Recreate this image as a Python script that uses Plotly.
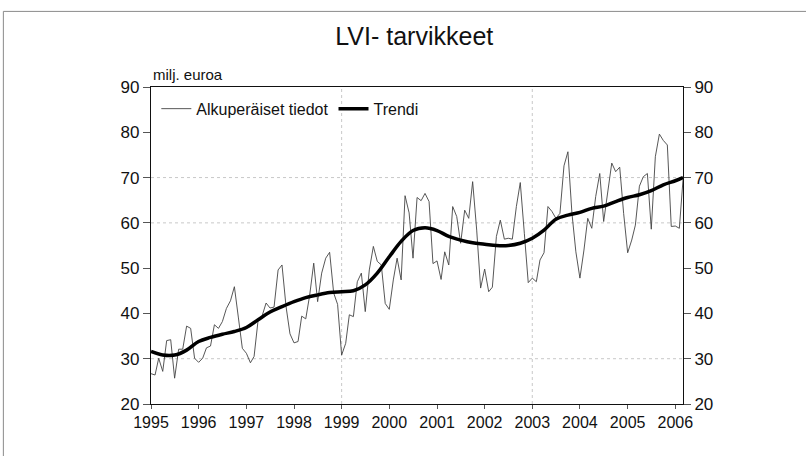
import pandas as pd
import plotly.graph_objects as go

# ---- data (milj. euroa), monthly from Jan 1995 ----
title = "LVI- tarvikkeet"
unit_label = "milj. euroa"
series_names = ["Alkuperäiset tiedot", "Trendi"]

original_values = [
    26.7, 26.4, 30.1, 27.2, 34.0, 34.2, 25.7, 32.1, 32.1, 37.2, 36.7, 30.1,   # 1995
    29.2, 30.1, 32.4, 32.8, 37.5, 36.7, 38.2, 41.1, 42.8, 45.9, 39.0, 32.3,   # 1996
    31.2, 29.1, 30.5, 38.6, 39.4, 42.3, 41.2, 41.4, 49.6, 50.7, 41.5, 35.5,   # 1997
    33.5, 33.8, 39.4, 38.8, 44.0, 51.1, 42.6, 48.9, 52.2, 53.5, 44.5, 42.0,   # 1998
    30.8, 33.4, 39.7, 39.3, 47.0, 48.9, 40.4, 49.6, 54.8, 51.5, 50.7, 42.2,   # 1999
    40.9, 47.4, 52.2, 47.4, 66.0, 62.2, 52.2, 65.6, 64.9, 66.5, 64.7, 51.0,   # 2000
    51.6, 47.5, 53.6, 50.7, 63.6, 61.4, 55.5, 62.8, 61.0, 69.1, 58.4, 45.6,   # 2001
    49.8, 44.8, 45.8, 57.0, 60.6, 56.4, 56.6, 56.4, 63.6, 68.9, 57.7, 46.8,   # 2002
    47.8, 47.0, 51.8, 53.4, 63.6, 62.5, 61.0, 62.1, 72.6, 75.7, 62.1, 53.6,   # 2003
    47.8, 54.0, 61.0, 58.8, 65.8, 70.9, 60.3, 66.5, 73.2, 71.3, 72.3, 62.1,   # 2004
    53.4, 56.2, 59.5, 68.1, 70.2, 70.9, 58.6, 74.6, 79.6, 78.2, 77.2, 59.2,   # 2005
    59.3, 58.8, 69.5,                                                         # 2006
]

# trend, read quarterly (Jan/Apr/Jul/Oct) plus the last month
trend_values = [
    31.6, 30.8, 30.8, 31.9,   # 1995
    33.8, 34.7, 35.4, 36.0,   # 1996
    36.9, 38.6, 40.3, 41.5,   # 1997
    42.6, 43.5, 44.1, 44.6,   # 1998
    44.8, 45.0, 46.3, 48.9,   # 1999
    52.5, 55.9, 58.3, 58.9,   # 2000
    58.3, 57.0, 56.2, 55.6,   # 2001
    55.3, 55.0, 55.0, 55.5,   # 2002
    56.6, 58.4, 60.8, 61.7,   # 2003
    62.3, 63.2, 63.7, 64.7,   # 2004
    65.6, 66.2, 67.1, 68.4,   # 2005
    69.3, 70.0,               # 2006 (Jan, Mar)
]

y_ticks = [20, 30, 40, 50, 60, 70, 80, 90]
year_ticks = list(range(1995, 2007))
hgrid_values = [30, 60, 70]
vgrid_years = [1999, 2003]

months = pd.date_range("1995-01-01", periods=len(original_values), freq="MS")
trend_dates = list(pd.date_range("1995-01-01", "2005-12-31", freq="QS")) + [
    pd.Timestamp("2006-01-01"), months[-1]]

font_family = "Liberation Sans Narrow, Arial Narrow, Liberation Sans, Arial, sans-serif"

fig = go.Figure()
fig.add_trace(go.Scatter(x=months, y=original_values, mode="lines",
                         name=series_names[0],
                         line=dict(color="#444444", width=0.9)))
fig.add_trace(go.Scatter(x=trend_dates, y=trend_values, mode="lines",
                         name=series_names[1], line_shape="spline",
                         line=dict(color="#000000", width=3.5)))
# invisible trace to activate the right-hand axis
fig.add_trace(go.Scatter(x=trend_dates, y=trend_values, yaxis="y2",
                         mode="lines", line=dict(width=0), opacity=0,
                         showlegend=False, hoverinfo="skip"))

x_range = [months[0], months[-1]]

for v in hgrid_values:
    fig.add_shape(type="line", xref="x", yref="y", x0=x_range[0], x1=x_range[1],
                  y0=v, y1=v, line=dict(color="#c8c8c8", width=1, dash="dot"),
                  layer="below")
for yr in vgrid_years:
    fig.add_shape(type="line", xref="x", yref="y",
                  x0=pd.Timestamp(f"{yr}-01-01"), x1=pd.Timestamp(f"{yr}-01-01"),
                  y0=y_ticks[0], y1=y_ticks[-1],
                  line=dict(color="#c8c8c8", width=1, dash="dot"), layer="below")

# outer frame (left and top edges visible)
fig.add_shape(type="line", xref="paper", yref="paper", x0=-0.2775, x1=1.3,
              y0=1.2385, y1=1.2385, line=dict(color="#8a8a8a", width=1))
fig.add_shape(type="line", xref="paper", yref="paper", x0=-0.2775, x1=-0.2775,
              y0=-0.2, y1=1.2385, line=dict(color="#8a8a8a", width=1))

fig.update_layout(
    width=806, height=456,
    margin=dict(l=151, r=123, t=87, b=52),
    paper_bgcolor="white", plot_bgcolor="white",
    font=dict(family=font_family, color="#111111", size=16),
    title=dict(text=title, x=0.514, xanchor="center", y=0.92, yanchor="middle",
               font=dict(size=25, family=font_family, color="#111111")),
    showlegend=True,
    legend=dict(orientation="h", x=0.01, y=0.985, xanchor="left", yanchor="top",
                bgcolor="rgba(0,0,0,0)", font=dict(size=16, family=font_family),
                itemwidth=30, tracegroupgap=0),
    xaxis=dict(type="date", range=x_range, tickvals=[pd.Timestamp(f"{y}-01-01") for y in year_ticks],
               ticktext=[str(y) for y in year_ticks], showgrid=False, zeroline=False,
               showline=True, linecolor="#111111", linewidth=1.3, mirror=True,
               ticks="outside", ticklen=4, tickcolor="#555555",
               tickfont=dict(size=16)),
    yaxis=dict(range=[y_ticks[0], y_ticks[-1]], tickvals=y_ticks, showgrid=False,
               zeroline=False, showline=True, linecolor="#111111", linewidth=1.3,
               mirror=True, ticks="outside", ticklen=7, tickcolor="#555555",
               tickfont=dict(size=17)),
    yaxis2=dict(range=[y_ticks[0], y_ticks[-1]], tickvals=y_ticks, overlaying="y",
                side="right", showgrid=False, zeroline=False, showline=False,
                ticks="outside", ticklen=7, tickcolor="#555555",
                tickfont=dict(size=17)),
    annotations=[dict(text=unit_label, xref="paper", yref="paper", x=0.0, y=1.0,
                      xanchor="left", yanchor="bottom", yshift=2, showarrow=False,
                      font=dict(size=15, family=font_family))],
)

fig.write_html("out.html", config={"displayModeBar": False},
               post_script="document.body.style.margin='0';document.body.style.padding='0';")
